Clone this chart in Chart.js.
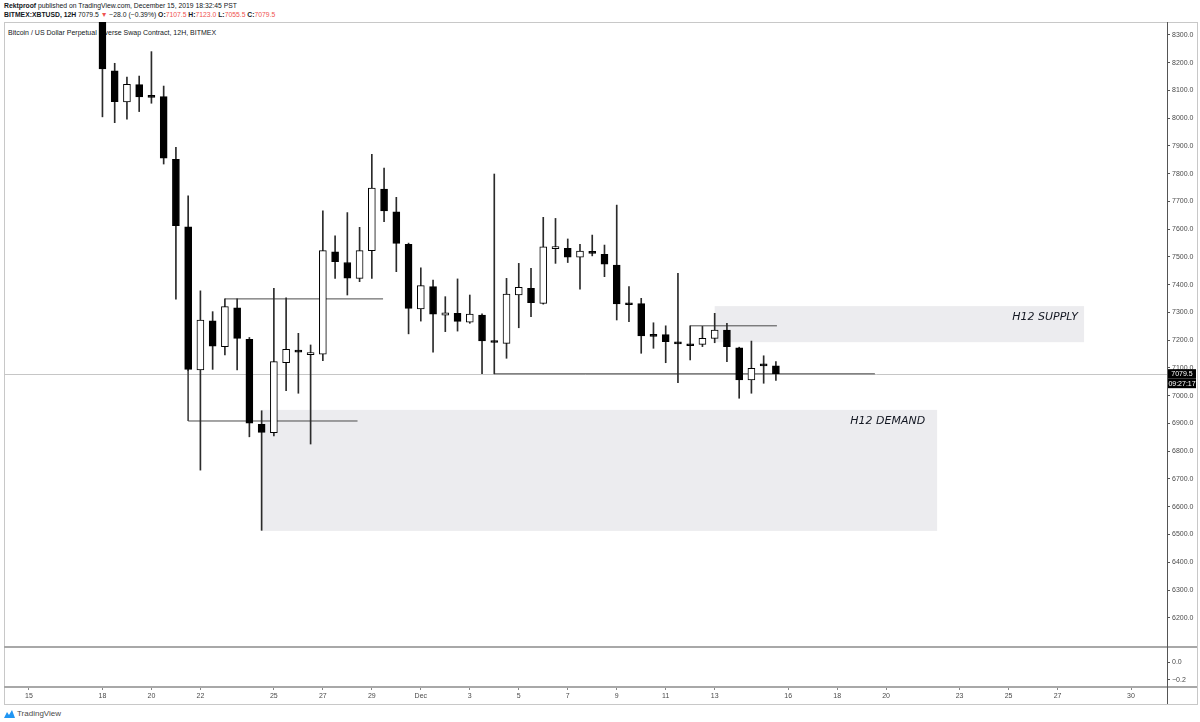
<!DOCTYPE html>
<html>
<head>
<meta charset="utf-8">
<title>XBTUSD 12H</title>
<script src="https://cdn.jsdelivr.net/npm/chart.js@4.4.0/dist/chart.umd.min.js"></script>
<style>
  body { margin: 0; width: 1200px; height: 722px; position: relative; overflow: hidden; background: #fff;
         font-family: "Liberation Sans", Arial, sans-serif; color: #131722; }
  .hdr { position: absolute; left: 4px; font-size: 6.8px; white-space: nowrap; }
  #h1 { top: 2px; }
  #h2 { top: 11px; }
  .r { color: #ef5350; }
  #frame { position: absolute; left: 4px; top: 22px; width: 1194px; height: 683px; box-sizing: border-box; border: 1px solid #c8c8c8; }
  #title { position: absolute; left: 8px; top: 29px; font-size: 7px; white-space: nowrap; }
  #wrap { position: absolute; left: 4px; top: 22px; width: 1193px; height: 682px; }
  #logo { position: absolute; left: 4px; top: 709px; font-size: 8px; color: #4a4a4a; display: flex; align-items: center; gap: 2px; }
</style>
</head>
<body>
<div class="hdr" id="h1"><b>Rektproof</b> published on TradingView.com, December 15, 2019 18:32:45 PST</div>
<div class="hdr" id="h2"></div>
<div id="frame"></div>
<div id="title">Bitcoin / US Dollar Perpetual Inverse Swap Contract, 12H, BITMEX</div>
<div id="wrap"><canvas id="chart" width="1193" height="682"></canvas></div>
<div id="logo"><svg width="11" height="8" viewBox="0 0 11 8"><path d="M0 8 L3 2 L5 5 L8 0 L11 8 Z" fill="#2196f3"/></svg><span>TradingView</span></div>
<script>
// 12H candles, BITMEX:XBTUSD
const candleTimes = [
  '2019-11-18T00:00Z','2019-11-18T12:00Z','2019-11-19T00:00Z','2019-11-19T12:00Z',
  '2019-11-20T00:00Z','2019-11-20T12:00Z','2019-11-21T00:00Z','2019-11-21T12:00Z',
  '2019-11-22T00:00Z','2019-11-22T12:00Z','2019-11-23T00:00Z','2019-11-23T12:00Z',
  '2019-11-24T00:00Z','2019-11-24T12:00Z','2019-11-25T00:00Z','2019-11-25T12:00Z',
  '2019-11-26T00:00Z','2019-11-26T12:00Z','2019-11-27T00:00Z','2019-11-27T12:00Z',
  '2019-11-28T00:00Z','2019-11-28T12:00Z','2019-11-29T00:00Z','2019-11-29T12:00Z',
  '2019-11-30T00:00Z','2019-11-30T12:00Z','2019-12-01T00:00Z','2019-12-01T12:00Z',
  '2019-12-02T00:00Z','2019-12-02T12:00Z','2019-12-03T00:00Z','2019-12-03T12:00Z',
  '2019-12-04T00:00Z','2019-12-04T12:00Z','2019-12-05T00:00Z','2019-12-05T12:00Z',
  '2019-12-06T00:00Z','2019-12-06T12:00Z','2019-12-07T00:00Z','2019-12-07T12:00Z',
  '2019-12-08T00:00Z','2019-12-08T12:00Z','2019-12-09T00:00Z','2019-12-09T12:00Z',
  '2019-12-10T00:00Z','2019-12-10T12:00Z','2019-12-11T00:00Z','2019-12-11T12:00Z',
  '2019-12-12T00:00Z','2019-12-12T12:00Z','2019-12-13T00:00Z','2019-12-13T12:00Z',
  '2019-12-14T00:00Z','2019-12-14T12:00Z','2019-12-15T00:00Z','2019-12-15T12:00Z'
];
const opens = [8420,8171,8059,8121,8080,8078,7852,7609,7093,7270,
  7177,7317,7203,6897,6867,7119,7162,7148,7150,7519,
  7480,7423,7523,7745,7663,7546,7313,7393,7290,7297,
  7265,7291,7197,7189,7363,7387,7333,7530,7531,7499,
  7518,7510,7471,7333,7332,7220,7220,7192,7185,7185,
  7207,7237,7173,7057,7110,7107.5];
const highs = [8490,8198,8148,8152,8240,8116,7895,7720,7378,7303,
  7349,7349,7210,6946,7387,7353,7225,7183,7666,7576,
  7660,7607,7870,7820,7715,7550,7461,7417,7357,7421,
  7363,7295,7799,7423,7477,7459,7643,7639,7565,7546,
  7579,7543,7687,7393,7351,7263,7252,7441,7252,7250,
  7297,7261,7175,7197,7144,7123];
const lows = [8005,7984,7997,8024,8054,7835,7348,7090,6732,7095,
  7147,7093,6852,6515,6855,7018,7009,6826,7126,7423,
  7363,7411,7423,7627,7447,7223,7269,7157,7231,7233,
  7261,7080,7079,7135,7245,7285,7330,7477,7480,7384,
  7504,7429,7273,7267,7153,7171,7119,7047,7129,7177,
  7191,7123,6991,7009,7045,7055.5];
const closes = [8178,8060,8122,8077,8075,7856,7613,7095,7273,7179,
  7321,7207,6901,6868,7123,7167,7157,7152,7523,7483,
  7424,7523,7748,7666,7549,7315,7397,7294,7299,7268,
  7294,7198,7192,7366,7391,7335,7537,7534,7499,7521,
  7513,7474,7331,7328,7216,7214,7195,7187,7180,7207,
  7237,7177,7057,7099,7107.5,7079.5];

const priceTicks = [6200,6300,6400,6500,6600,6700,6800,6900,7000,7100,7200,
  7300,7400,7500,7600,7700,7800,7900,8000,8100,8200,8300];
const subTicks = [0, -0.2];
const dateTicks = ['2019-11-15','2019-11-18','2019-11-20','2019-11-22','2019-11-25','2019-11-27',
  '2019-11-29','2019-12-01','2019-12-03','2019-12-05','2019-12-07','2019-12-09','2019-12-11',
  '2019-12-13','2019-12-16','2019-12-18','2019-12-20','2019-12-23','2019-12-25','2019-12-27','2019-12-30'];
const dateLabels = ['15','18','20','22','25','27','29','Dec','3','5','7','9','11','13','16','18','20','23','25','27','30'];

// drawn zones
const zoneNames = ['H12 SUPPLY', 'H12 DEMAND'];
const zoneFrom = ['2019-12-13T00:00Z', '2019-11-24T12:00Z'];
const zoneTo = ['2019-12-28T02:00Z', '2019-12-22T02:00Z'];
const zoneLow = [7193, 6513];
const zoneHigh = [7323, 6949];

// drawn levels (time, price)
const levelLines = [
  [['2019-11-21T12:00Z', 7095], ['2019-11-21T12:00Z', 6909], ['2019-11-28T10:00Z', 6909]],
  [['2019-11-23T00:00Z', 7349], ['2019-11-29T11:00Z', 7349]],
  [['2019-12-12T00:00Z', 7252], ['2019-12-15T13:00Z', 7252]],
  [['2019-12-04T00:00Z', 7079], ['2019-12-19T13:00Z', 7079]]
];
const countdown = '09:27:17';

// day number: Nov 1 = 1, Dec 1 = 31
const day = s => (Date.parse(s) - Date.UTC(2019, 9, 31)) / 864e5;

const last = closes.length - 1;
const change = closes[last] - closes[last - 1];
const pct = change / closes[last - 1] * 100;
const minus = v => (v < 0 ? '\u2212' : '') + Math.abs(v).toFixed(1);
document.getElementById('h2').innerHTML =
  '<b>BITMEX:XBTUSD, 12H</b> ' + closes[last].toFixed(1) + ' <span class="r">\u25BC</span> ' +
  minus(change) + ' (' + (pct < 0 ? '\u2212' : '') + Math.abs(pct).toFixed(2) + '%) ' +
  '<b>O:</b><span class="r">' + opens[last].toFixed(1) + '</span> ' +
  '<b>H:</b><span class="r">' + highs[last].toFixed(1) + '</span> ' +
  '<b>L:</b><span class="r">' + lows[last].toFixed(1) + '</span> ' +
  '<b>C:</b><span class="r">' + closes[last].toFixed(1) + '</span>';

const xs = candleTimes.map(day);
const wickData = xs.map((x, i) => ({ x: x, y: [lows[i], highs[i]] }));
const bodyData = xs.map((x, i) => ({ x: x, y: [opens[i], closes[i]] }));
const bodyColors = closes.map((c, i) => c > opens[i] ? '#ffffff' : '#000000');

const lineSets = levelLines.map(pts => ({
  type: 'line',
  data: pts.map(p => ({ x: day(p[0]), y: p[1] })),
  borderColor: '#4a4a4a',
  borderWidth: 1,
  pointRadius: 0,
  tension: 0,
  order: 3
}));

Chart.defaults.font.family = '"Liberation Sans", Arial, sans-serif';
Chart.defaults.color = '#4a4a4a';

const noPad = s => { s.paddingTop = 0; s.paddingBottom = 0; s.paddingLeft = 0; s.paddingRight = 0; };

const overlay = {
  id: 'overlay',
  beforeDatasetsDraw(chart) {
    const { ctx, chartArea: a, scales: { x, y } } = chart;
    ctx.save();
    ctx.beginPath();
    ctx.rect(a.left, y.top, a.right - a.left, y.bottom - y.top);
    ctx.clip();
    const insets = [6, 12];
    zoneNames.forEach((name, i) => {
      const x0 = x.getPixelForValue(day(zoneFrom[i]));
      const x1 = x.getPixelForValue(day(zoneTo[i]));
      const y0 = y.getPixelForValue(zoneHigh[i]);
      const y1 = y.getPixelForValue(zoneLow[i]);
      ctx.fillStyle = '#ececef';
      ctx.fillRect(x0, y0, x1 - x0, y1 - y0);
      ctx.fillStyle = '#131722';
      ctx.font = 'italic 11px "DejaVu Sans"';
      ctx.textAlign = 'right';
      ctx.textBaseline = 'middle';
      ctx.fillText(name, x1 - insets[i], y0 + 11);
    });
    // last price line
    const py = Math.round(y.getPixelForValue(closes[last])) + 0.5;
    ctx.strokeStyle = '#c6c6c6';
    ctx.lineWidth = 1;
    ctx.beginPath();
    ctx.moveTo(a.left, py);
    ctx.lineTo(a.right, py);
    ctx.stroke();
    ctx.restore();
  },
  afterDraw(chart) {
    const { ctx, chartArea: a, scales: { y, y2 } } = chart;
    ctx.save();
    ctx.strokeStyle = '#a8a8a8';
    ctx.lineWidth = 2;
    [y.bottom, y2.bottom].forEach(v => {
      ctx.beginPath();
      ctx.moveTo(0, v);
      ctx.lineTo(chart.width, v);
      ctx.stroke();
    });
    ctx.strokeStyle = '#555';
    ctx.lineWidth = 1;
    ctx.beginPath();
    ctx.moveTo(a.right + 0.5, 0);
    ctx.lineTo(a.right + 0.5, chart.height);
    ctx.stroke();
    // price / countdown labels
    const py = y.getPixelForValue(closes[last]);
    ctx.fillStyle = '#000';
    ctx.fillRect(a.right + 1, py - 4.5, 28, 9.5);
    ctx.fillRect(a.right + 1, py + 5, 28, 9.5);
    ctx.fillStyle = '#fff';
    ctx.font = '7px "Liberation Sans"';
    ctx.textAlign = 'center';
    ctx.textBaseline = 'middle';
    ctx.fillText(closes[last].toFixed(1), a.right + 15, py + 0.5);
    ctx.fillText(countdown, a.right + 15, py + 10);
    ctx.restore();
  }
};

new Chart(document.getElementById('chart'), {
  type: 'bar',
  data: {
    datasets: [
      {
        data: wickData,
        backgroundColor: '#2b2b2b',
        barThickness: 1,
        maxBarThickness: 1,
        grouped: false,
        order: 2
      },
      {
        data: bodyData,
        backgroundColor: bodyColors,
        borderColor: '#000',
        borderWidth: 1,
        borderSkipped: false,
        barThickness: 7,
        maxBarThickness: 7,
        minBarLength: 2,
        grouped: false,
        order: 1
      }
    ].concat(lineSets)
  },
  options: {
    responsive: false,
    animation: false,
    devicePixelRatio: 1,
    layout: { padding: 0 },
    plugins: { legend: { display: false }, tooltip: { enabled: false } },
    scales: {
      x: {
        type: 'linear',
        position: 'bottom',
        offset: false,
        min: 13.98,
        max: 61.47,
        afterBuildTicks: s => { s.ticks = dateTicks.map(d => ({ value: day(d) })); },
        afterFit: s => { s.height = 17; noPad(s); },
        ticks: { autoSkip: false, maxRotation: 0, padding: 2, font: { size: 7 },
                 callback: (v, i) => dateLabels[i] },
        grid: { offset: false, drawOnChartArea: false, tickLength: 3, color: '#888' },
        border: { display: false }
      },
      y: {
        type: 'linear',
        position: 'right',
        stack: 'pane',
        stackWeight: 625,
        min: 6094.6,
        max: 8346.8,
        afterBuildTicks: s => { s.ticks = priceTicks.map(v => ({ value: v })); },
        afterFit: s => { s.width = 30; noPad(s); },
        ticks: { padding: 2, font: { size: 7 }, callback: v => v.toFixed(1) },
        grid: { drawOnChartArea: false, tickLength: 3, color: '#555' },
        border: { display: true, color: '#555' }
      },
      y2: {
        type: 'linear',
        position: 'right',
        stack: 'pane',
        stackWeight: 40,
        min: -0.2778,
        max: 0.1667,
        afterBuildTicks: s => { s.ticks = subTicks.map(v => ({ value: v })); },
        afterFit: s => { s.width = 30; noPad(s); },
        ticks: { padding: 2, font: { size: 7 }, callback: v => minus(v) },
        grid: { drawOnChartArea: false, tickLength: 3, color: '#555' },
        border: { display: true, color: '#555' }
      }
    }
  },
  plugins: [overlay]
});
</script>
</body>
</html>
